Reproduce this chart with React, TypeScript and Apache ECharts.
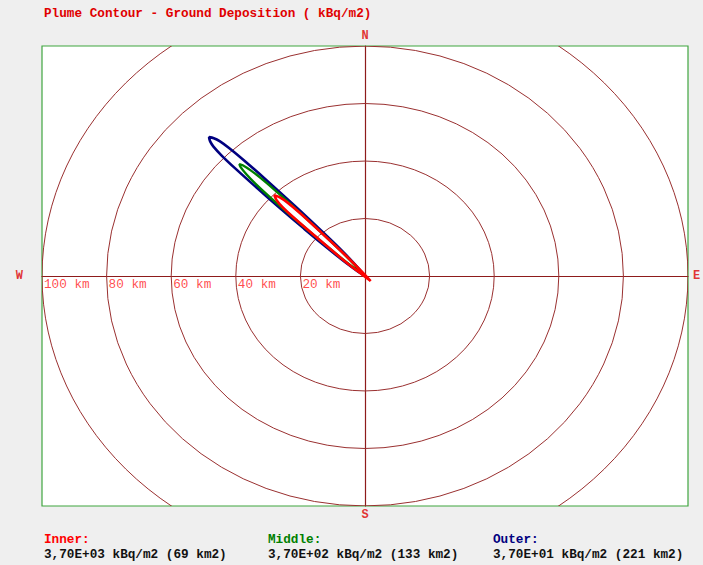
import React, { useEffect, useRef } from 'react';
import * as echarts from 'echarts';

const TITLE = 'Plume Contour - Ground Deposition ( kBq/m2)';
const X_RANGE_KM = [-100, 100];
const Y_RANGE_KM = [-80, 80];
const RING_RADII_KM = [20, 40, 60, 80, 100];
const RANGE_LABELS = ['100 km', '80 km', '60 km', '40 km', '20 km'];
const RANGE_LABEL_X_KM = [-100, -80, -60, -40, -20];
const COMPASS_LABELS = ['N', 'S', 'W', 'E'];
const COMPASS_POINTS_KM: [number, number][] = [[0, 80], [0, -80], [-100, 0], [100, 0]];

// contour outlines, x/y in km from the release point
const OUTER_CONTOUR: [number, number][] = [
  [0, 0], [-1.803, 2.439], [-4.985, 6.329], [-9.652, 11.561], [-16.475, 18.88], [-23.405, 26.092],
  [-30.405, 33.234], [-37.512, 40.269], [-41.896, 44.371], [-45.007, 46.917], [-46.81, 47.941],
  [-48.295, 48.295], [-47.941, 46.81], [-46.917, 45.007], [-44.371, 41.896], [-40.269, 37.512],
  [-33.234, 30.405], [-26.092, 23.405], [-18.88, 16.475], [-11.561, 9.652], [-6.329, 4.985],
  [-2.439, 1.803], [0, 0],
];
const MIDDLE_CONTOUR: [number, number][] = [
  [0, 0], [-5.162, 6.152], [-13.329, 14.955], [-20.258, 22.168], [-27.294, 29.274], [-32.35, 34.118],
  [-35.39, 36.734], [-37.866, 38.502], [-38.891, 38.891], [-38.502, 37.866], [-36.734, 35.39],
  [-34.118, 32.35], [-29.274, 27.294], [-22.168, 20.258], [-14.955, 13.329], [-6.152, 5.162], [0, 0],
];
const INNER_CONTOUR: [number, number][] = [
  [1.768, -1.768], [-1.803, 2.439], [-6.47, 7.672], [-13.364, 14.92], [-20.329, 22.097],
  [-23.971, 25.526], [-26.375, 27.365], [-28.072, 28.072], [-27.365, 26.375], [-25.526, 23.971],
  [-22.097, 20.329], [-14.92, 13.364], [-7.672, 6.47], [-2.439, 1.803], [1.768, -1.768],
];

const LEGEND_NAMES = ['Inner:', 'Middle:', 'Outer:'];
const LEGEND_VALUES = [
  '3,70E+03 kBq/m2 (69 km2)',
  '3,70E+02 kBq/m2 (133 km2)',
  '3,70E+01 kBq/m2 (221 km2)',
];
const LEGEND_COLORS = ['#ff0000', '#008000', '#000080'];
const LEGEND_X = [44, 268, 493];

const FONT = '"Liberation Mono", "DejaVu Sans Mono", monospace';
const RING_COLOR = '#9a3030';
const AXIS_COLOR = '#8e1b1b';

export default function App() {
  const ref = useRef<HTMLDivElement>(null);

  useEffect(() => {
    if (!ref.current) return;
    const chart = echarts.init(ref.current, undefined, { renderer: 'svg' });

    const graphics: any[] = [
      {
        type: 'text',
        left: 44,
        top: 7,
        style: { text: TITLE, fill: '#e00000', font: `bold 12.7px ${FONT}` },
      },
    ];
    LEGEND_NAMES.forEach((name, i) => {
      graphics.push({
        type: 'text',
        x: LEGEND_X[i],
        y: 539,
        style: { text: name, fill: LEGEND_COLORS[i], font: `bold 12.7px ${FONT}`, verticalAlign: 'middle' },
      });
      graphics.push({
        type: 'text',
        x: LEGEND_X[i],
        y: 554,
        style: { text: LEGEND_VALUES[i], fill: '#111', font: `bold 12.7px ${FONT}`, verticalAlign: 'middle' },
      });
    });

    const compassPos = ['top', 'bottom', 'left', 'right'];
    const compassDist = [4, 3, 19, 5];

    chart.setOption({
      animation: false,
      backgroundColor: '#efefef',
      grid: {
        left: 42,
        right: 15,
        top: 46,
        bottom: 59,
        show: true,
        backgroundColor: '#ffffff',
        borderColor: '#3fa53f',
        borderWidth: 1.2,
      },
      xAxis: {
        type: 'value',
        min: X_RANGE_KM[0],
        max: X_RANGE_KM[1],
        axisLine: { show: true, onZero: true, lineStyle: { color: AXIS_COLOR, width: 1.2 } },
        axisTick: { show: false },
        axisLabel: { show: false },
        splitLine: { show: false },
      },
      yAxis: {
        type: 'value',
        min: Y_RANGE_KM[0],
        max: Y_RANGE_KM[1],
        axisLine: { show: true, onZero: true, lineStyle: { color: AXIS_COLOR, width: 1.2 } },
        axisTick: { show: false },
        axisLabel: { show: false },
        splitLine: { show: false },
      },
      graphic: graphics,
      series: [
        {
          type: 'custom',
          name: 'rings',
          clip: true,
          silent: true,
          data: RING_RADII_KM.map((r) => [r, 0]),
          encode: { x: 0, y: 1 },
          renderItem: (params: any, api: any) => {
            const r = api.value(0);
            const c = api.coord([0, 0]);
            const px = api.coord([r, 0]);
            const py = api.coord([0, r]);
            const rx = px[0] - c[0];
            const ry = c[1] - py[1];
            const d = `M${c[0] - rx} ${c[1]} A${rx} ${ry} 0 1 0 ${c[0] + rx} ${c[1]} A${rx} ${ry} 0 1 0 ${c[0] - rx} ${c[1]} Z`;
            return {
              type: 'path',
              shape: { pathData: d },
              style: { fill: 'none', stroke: RING_COLOR, lineWidth: 1 },
            };
          },
          z: 1,
        },
        {
          type: 'line',
          name: 'Outer',
          data: OUTER_CONTOUR,
          symbol: 'none',
          smooth: 0.3,
          lineStyle: { color: '#000080', width: 2.6 },
          z: 3,
        },
        {
          type: 'line',
          name: 'Middle',
          data: MIDDLE_CONTOUR,
          symbol: 'none',
          smooth: 0.3,
          lineStyle: { color: '#008000', width: 2.4 },
          z: 4,
        },
        {
          type: 'line',
          name: 'Inner',
          data: INNER_CONTOUR,
          symbol: 'none',
          smooth: 0.3,
          lineStyle: { color: '#ff0000', width: 2.6 },
          z: 5,
        },
        {
          type: 'scatter',
          name: 'ranges',
          symbolSize: 0,
          silent: true,
          data: RANGE_LABEL_X_KM.map((x, i) => ({ value: [x, 0], name: RANGE_LABELS[i] })),
          label: {
            show: true,
            position: 'right',
            distance: 2,
            offset: [0, 8],
            formatter: (p: any) => p.name,
            color: '#ff1a1a',
            fontFamily: FONT,
            fontSize: 12.7,
          },
          z: 6,
        },
        {
          type: 'scatter',
          name: 'compass',
          symbolSize: 0,
          silent: true,
          clip: false,
          data: COMPASS_POINTS_KM.map((p, i) => ({
            value: p,
            name: COMPASS_LABELS[i],
            label: { position: compassPos[i], distance: compassDist[i] },
          })),
          label: {
            show: true,
            formatter: (p: any) => p.name,
            color: '#dd0000',
            fontFamily: FONT,
            fontWeight: 'bold',
            fontSize: 12,
          },
          z: 6,
        },
      ],
    });

    return () => chart.dispose();
  }, []);

  return (
    <div
      ref={ref}
      style={{ position: 'absolute', left: 0, top: 0, width: 703, height: 565, background: '#efefef' }}
    />
  );
}
